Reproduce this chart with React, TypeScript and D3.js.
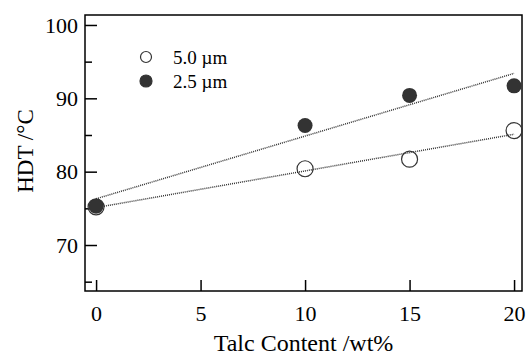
import React, { useRef, useEffect } from "react";
import * as d3 from "d3";

// talc content (wt%) and HDT (°C)
const talcContent = [0, 10, 15, 20];
const hdt50um = [75.2, 80.4, 81.7, 85.6];
const hdt25um = [75.3, 86.3, 90.4, 91.7];
// linear fit end points (at 0 and 20 wt%)
const fitX = [0, 20];
const fit50um = [75.1, 85.1];
const fit25um = [76.3, 93.4];

const xTicks = [0, 5, 10, 15, 20];
const yTicks = [70, 80, 90, 100];
const yMinorTicks = [65, 75, 85, 95];
const legendLabels = ["5.0 \u00b5m", "2.5 \u00b5m"];

const FONT = "'Liberation Serif', 'Times New Roman', serif";

const App = () => {
  const svgRef = useRef<SVGSVGElement>(null);
  const width = 526;
  const height = 355;
  const plot = { left: 85, right: 522, top: 15, bottom: 291 };

  useEffect(() => {
    const xScale = d3.scaleLinear().domain([-0.53, 20.38]).range([plot.left, plot.right]);
    const yScale = d3.scaleLinear().domain([63.73, 101.36]).range([plot.bottom, plot.top]);

    const svgEl = d3.select(svgRef.current);
    svgEl.selectAll("*").remove();
    const svg = svgEl.append("g");

    // frame
    svg
      .append("rect")
      .attr("x", plot.left)
      .attr("y", plot.top)
      .attr("width", plot.right - plot.left)
      .attr("height", plot.bottom - plot.top)
      .attr("fill", "none")
      .attr("stroke", "black")
      .attr("stroke-width", 1.5);

    // y axis, ticks pointing in
    const yAxisGroup = svg
      .append("g")
      .attr("transform", `translate(${plot.left},0)`)
      .call(d3.axisLeft(yScale).tickValues(yTicks).tickSize(-12).tickPadding(7));
    yAxisGroup.select(".domain").remove();
    yAxisGroup.selectAll("line").attr("stroke", "black").attr("stroke-width", 1.5);
    yAxisGroup
      .selectAll("text")
      .attr("font-family", FONT)
      .attr("font-size", 22)
      .attr("fill", "black");

    const yMinor = svg
      .append("g")
      .attr("transform", `translate(${plot.left},0)`)
      .call(d3.axisLeft(yScale).tickValues(yMinorTicks).tickSize(-7).tickFormat(() => ""));
    yMinor.select(".domain").remove();
    yMinor.selectAll("line").attr("stroke", "black").attr("stroke-width", 1.5);

    // x axis
    const xAxisGroup = svg
      .append("g")
      .attr("transform", `translate(0,${plot.bottom})`)
      .call(d3.axisBottom(xScale).tickValues(xTicks).tickSize(-11).tickPadding(14));
    xAxisGroup.select(".domain").remove();
    xAxisGroup.selectAll("line").attr("stroke", "black").attr("stroke-width", 1.5);
    xAxisGroup
      .selectAll("text")
      .attr("font-family", FONT)
      .attr("font-size", 22)
      .attr("fill", "black");

    // axis titles
    svg
      .append("text")
      .attr("x", (plot.left + plot.right) / 2)
      .attr("y", 351)
      .attr("text-anchor", "middle")
      .attr("font-family", FONT)
      .attr("font-size", 24)
      .text("Talc Content /wt%");
    svg
      .append("text")
      .attr("transform", `translate(33,151) rotate(-90)`)
      .attr("text-anchor", "middle")
      .attr("font-family", FONT)
      .attr("font-size", 23)
      .text("HDT /\u00b0C");

    // fit lines
    const line = d3
      .line<number>()
      .x((_, i) => xScale(fitX[i]))
      .y((d) => yScale(d));
    [fit25um, fit50um].forEach((f) => {
      svg
        .append("path")
        .attr("d", line(f))
        .attr("fill", "none")
        .attr("stroke", "#333")
        .attr("stroke-width", 1.5)
        .attr("stroke-dasharray", "1,1");
    });

    // points
    svg
      .append("g")
      .selectAll("circle")
      .data(hdt25um)
      .enter()
      .append("circle")
      .attr("cx", (_, i) => xScale(talcContent[i]))
      .attr("cy", (d) => yScale(d))
      .attr("r", 7.5)
      .attr("fill", "#333");
    svg
      .append("g")
      .selectAll("circle")
      .data(hdt50um)
      .enter()
      .append("circle")
      .attr("cx", (_, i) => xScale(talcContent[i]))
      .attr("cy", (d) => yScale(d))
      .attr("r", 8)
      .attr("fill", "none")
      .attr("stroke", "#333")
      .attr("stroke-width", 1.2);

    // legend
    const legend = svg.append("g");
    legendLabels.forEach((lab, i) => {
      const y = 57 + i * 24;
      legend
        .append("circle")
        .attr("cx", 146)
        .attr("cy", y)
        .attr("r", i === 0 ? 5.5 : 6)
        .attr("fill", i === 0 ? "white" : "#333")
        .attr("stroke", "#333")
        .attr("stroke-width", 1.2);
      legend
        .append("text")
        .attr("x", 173)
        .attr("y", y + 6.5)
        .attr("font-family", FONT)
        .attr("font-size", 19)
        .text(lab);
    });
  }, []);

  return (
    <svg
      ref={svgRef}
      width={width}
      height={height}
      style={{ position: "absolute", left: 0, top: 0, background: "white" }}
    />
  );
};

export default App;
